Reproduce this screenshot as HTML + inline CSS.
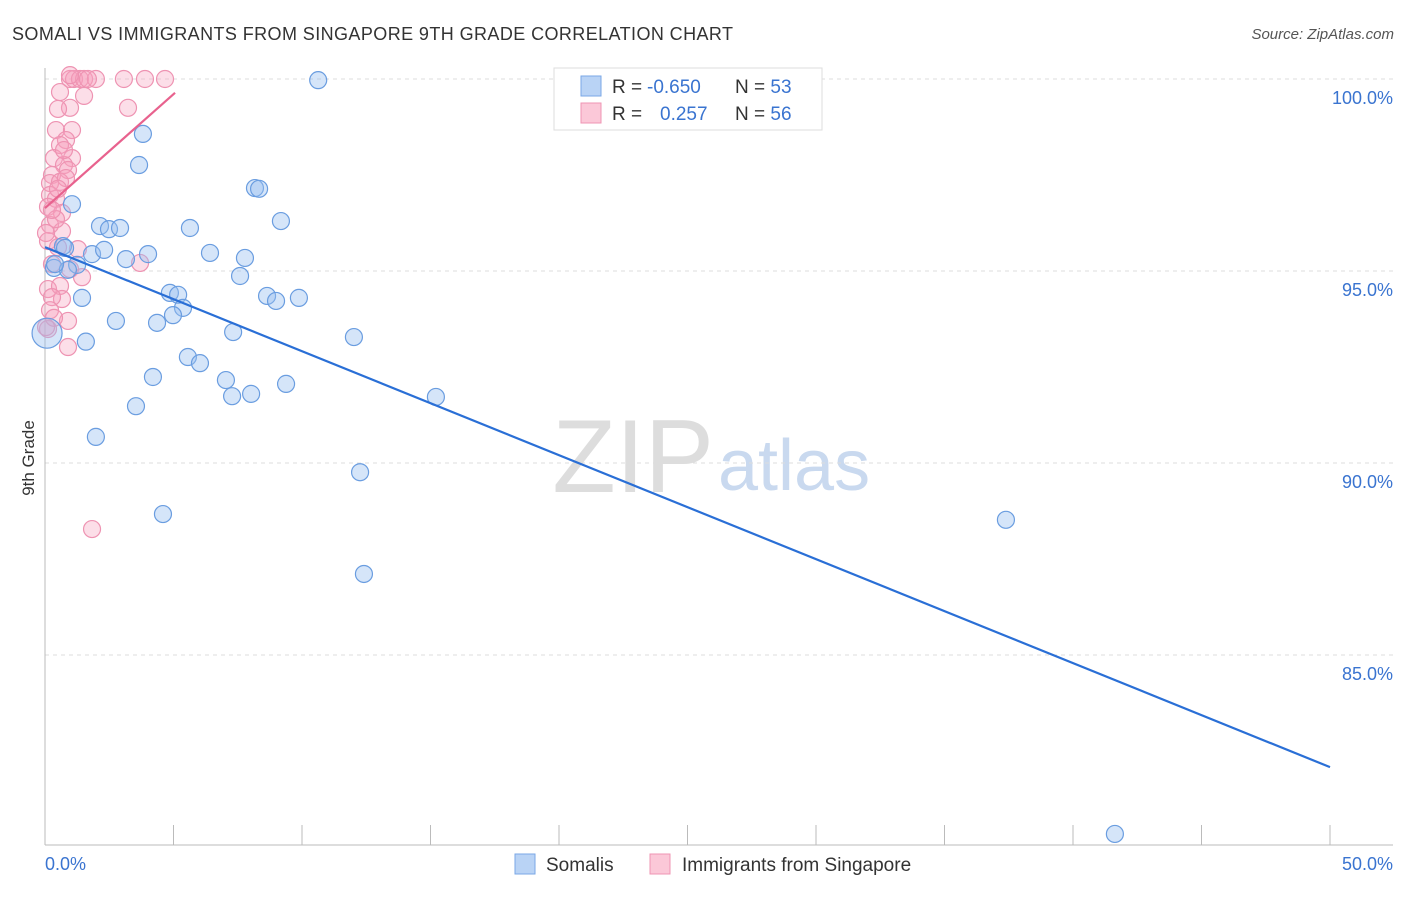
<!DOCTYPE html>
<html><head><meta charset="utf-8"><style>
body{margin:0;background:#fff;font-family:"Liberation Sans",sans-serif}
svg text{font-family:"Liberation Sans",sans-serif}
</style></head><body>
<svg id="c" width="1406" height="892" xmlns="http://www.w3.org/2000/svg">
<text x="12" y="40" font-size="18" fill="#333" textLength="721">SOMALI VS IMMIGRANTS FROM SINGAPORE 9TH GRADE CORRELATION CHART</text>
<text x="1394" y="39" font-size="15" fill="#555" text-anchor="end" font-style="italic">Source: ZipAtlas.com</text>
<text x="714" y="492" font-size="104" fill="#ddd" text-anchor="end" font-family="Liberation Serif">ZIP</text>
<text x="718" y="490" font-size="72" fill="#c9d9ef">atlas</text>
<g id="grid"></g><g id="marks"></g>
<text x="34" y="458" font-size="17" fill="#333" text-anchor="middle" transform="rotate(-90 34 458)">9th Grade</text>
<text x="45" y="870" font-size="18" fill="#3a74d0">0.0%</text>
<text x="1393" y="870" font-size="18" fill="#3a74d0" text-anchor="end">50.0%</text>
<g>
<rect x="554" y="68" width="268" height="62" fill="#fff" stroke="#ddd"/>
<rect x="581" y="76" width="20" height="20" fill="#b9d3f5" stroke="#7aa7e6"/>
<rect x="581" y="103" width="20" height="20" fill="#fbc8d8" stroke="#ef94b3"/>
<text x="612" y="93" font-size="19" fill="#333">R = <tspan fill="#3a74d0" x="647">-0.650</tspan><tspan x="735">N = </tspan><tspan fill="#3a74d0">53</tspan></text>
<text x="612" y="120" font-size="19" fill="#333">R = <tspan fill="#3a74d0" x="660">0.257</tspan><tspan x="735">N = </tspan><tspan fill="#3a74d0">56</tspan></text>
</g>
<g>
<rect x="515" y="854" width="20" height="20" fill="#b9d3f5" stroke="#7aa7e6"/>
<text x="546" y="871" font-size="19" fill="#333">Somalis</text>
<rect x="650" y="854" width="20" height="20" fill="#fbc8d8" stroke="#ef94b3"/>
<text x="682" y="871" font-size="19" fill="#333">Immigrants from Singapore</text>
</g>
</svg>
<script>
const yTicks=[100,95,90,85];
const xTicks=[0,5,10,15,20,25,30,35,40,45,50];
const somaliX=[10.63,3.81,3.66,8.17,8.33,1.05,9.18,2.14,2.49,2.92,5.64,1.83,2.30,3.15,4.01,6.42,7.78,0.700,1.25,0.350,0.891,7.59,4.86,5.18,1.44,8.64,8.99,9.88,5.37,4.98,2.76,4.36,7.32,12.02,1.59,5.56,6.03,4.20,7.04,9.38,7.28,8.02,15.21,3.54,1.98,12.26,4.59,37.39,12.41,41.63,0.08,0.39,0.78];
const somaliY=[99.97,98.57,97.76,97.16,97.14,96.74,96.30,96.17,96.09,96.12,96.12,95.44,95.55,95.31,95.44,95.47,95.34,95.65,95.16,95.08,95.03,94.87,94.43,94.38,94.30,94.35,94.22,94.30,94.04,93.85,93.70,93.65,93.41,93.28,93.16,92.76,92.60,92.24,92.16,92.06,91.74,91.80,91.72,91.48,90.68,89.76,88.67,88.52,87.11,80.34,93.38,95.18,95.60];
const singX=[0.973,1.13,1.36,1.52,1.98,3.07,3.89,4.67,0.584,1.52,3.23,0.973,0.506,0.428,1.05,0.817,0.584,0.350,1.05,0.739,0.895,0.272,0.195,0.584,0.817,0.195,0.428,0.117,0.195,0.661,0.117,0.506,1.28,0.272,0.973,3.70,1.44,0.117,0.584,0.661,0.272,0.895,0.117,0.895,1.83,0.195,0.350,0.661,0.428,0.04,0.973,1.67,0.739,0.506,0.272,0.04];
const singY=[100,100,100,100,100,100,100,100,99.66,99.56,99.25,99.25,99.22,98.67,98.67,98.41,98.28,97.94,97.94,97.76,97.63,97.50,97.29,97.32,97.42,96.98,96.88,96.67,96.20,96.04,95.78,95.62,95.57,95.18,95.05,95.21,94.84,94.53,94.61,94.27,94.32,93.70,93.49,93.02,88.28,93.98,93.78,96.51,96.35,95.99,100.1,100,98.15,97.14,96.59,93.54];
const blueLine=[[0,95.62],[50,82.08]];
const pinkLine=[[0,96.64],[5.06,99.64]];
const X=v=>45+v*25.7, Y=v=>79+(100-v)*38.4;
const ns='http://www.w3.org/2000/svg';
const grid=document.getElementById('grid'), marks=document.getElementById('marks');
function mk(p,tag,a){const e=document.createElementNS(ns,tag);for(const k in a)e.setAttribute(k,a[k]);p.appendChild(e);return e;}
yTicks.forEach(t=>{
 const l=mk(grid,'line',{x1:45,x2:1393,y1:Y(t),y2:Y(t),stroke:'#ddd','stroke-dasharray':'4 4'});
 
 
 const tx=mk(grid,'text',{x:1393,y:Y(t)+25,'font-size':18,fill:'#3a74d0','text-anchor':'end'});tx.textContent=t.toFixed(1)+'%';
 
 
});
const ax=mk(grid,'line',{x1:45,x2:1393,y1:845,y2:845,stroke:'#bbb'});


const ay=mk(grid,'line',{x1:45,x2:45,y1:68,y2:845,stroke:'#bbb'});


xTicks.forEach(t=>{const l=mk(grid,'line',{x1:X(t),x2:X(t),y1:825,y2:845,stroke:'#bbb'});
 
 });
singX.forEach((x,i)=>{const c=mk(marks,'circle',{cx:X(x),cy:Y(singY[i]),r:8.5,fill:'rgba(246,160,190,0.35)',stroke:'#ee93b2','stroke-width':1.2});
 
 });
somaliX.forEach((x,i)=>{const c=mk(marks,'circle',{cx:X(x),cy:Y(somaliY[i]),r:i==50?15:8.5,fill:'rgba(150,190,240,0.4)',stroke:'#6a9de0','stroke-width':1.2});
 
 });
const bl=mk(marks,'line',{x1:X(blueLine[0][0]),y1:Y(blueLine[0][1]),x2:X(blueLine[1][0]),y2:Y(blueLine[1][1]),stroke:'#2a6fd6','stroke-width':2.2});


const pl=mk(marks,'line',{x1:X(pinkLine[0][0]),y1:Y(pinkLine[0][1]),x2:X(pinkLine[1][0]),y2:Y(pinkLine[1][1]),stroke:'#e8628e','stroke-width':2.2});


</script>
</body></html>
